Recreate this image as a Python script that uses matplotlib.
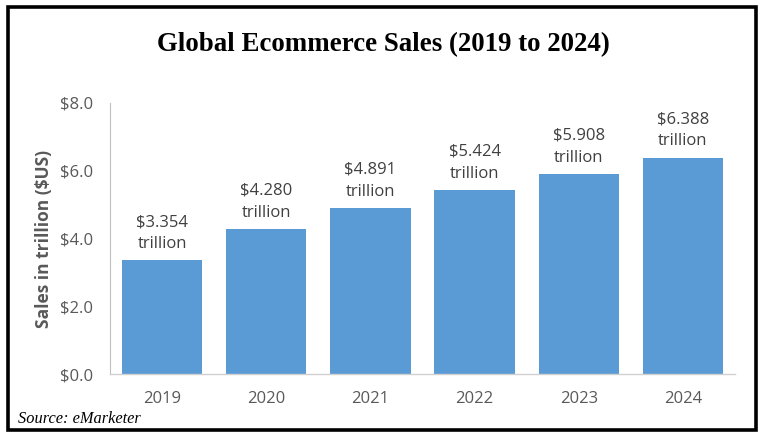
import matplotlib
matplotlib.use("Agg")
import matplotlib.pyplot as plt
from matplotlib.patches import Rectangle

years = ["2019", "2020", "2021", "2022", "2023", "2024"]
sales = [3.354, 4.280, 4.891, 5.424, 5.908, 6.388]
yticks = [0.0, 2.0, 4.0, 6.0, 8.0]
ytick_labels = ["$0.0", "$2.0", "$4.0", "$6.0", "$8.0"]

fig = plt.figure(figsize=(7.67, 4.41), dpi=100)
W, H = 767, 441
ax = fig.add_axes([110 / W, 1 - 374 / H, (735 - 110) / W, (374 - 103) / H])

x = list(range(len(years)))
ax.bar(x, sales, width=0.77, color="#5B9BD5", zorder=2)
ax.set_xlim(-0.5, len(years) - 0.5)
ax.set_ylim(0, 8.0)
ax.set_yticks(yticks)
ax.set_yticklabels(ytick_labels)
ax.set_xticks(x)
ax.set_xticklabels(years)

tick_color = "#595959"
for lab in ax.get_xticklabels() + ax.get_yticklabels():
    lab.set_family("Open Sans")
    lab.set_fontsize(12)
    lab.set_color(tick_color)
ax.tick_params(axis="x", length=0, pad=12)
ax.tick_params(axis="y", length=0, pad=12)

for s in ["top", "right"]:
    ax.spines[s].set_visible(False)
ax.spines["left"].set_color("#BFBFBF")
ax.spines["left"].set_linewidth(0.8)
ax.spines["bottom"].set_color("#D0D0D0")
ax.spines["bottom"].set_linewidth(1.0)

ax.set_ylabel("Sales in trillion ($US)", family="Open Sans", fontsize=12.5,
              fontweight="bold", color=tick_color, labelpad=5)

for xi, v in zip(x, sales):
    ax.annotate(f"${v:.3f}\ntrillion", (xi, v), xytext=(0, 6),
                textcoords="offset points", ha="center", va="bottom",
                family="Open Sans", fontsize=12, color="#404040",
                linespacing=1.5)

fig.text(383 / W, 1 - 45 / H, "Global Ecommerce Sales (2019 to 2024)",
         ha="center", va="center", family="Liberation Serif",
         fontweight="bold", fontsize=19.4, color="black")
fig.text(18 / W, 1 - 419 / H, "Source: eMarketer", ha="left", va="center",
         family="Liberation Serif", style="italic", fontsize=11.8, color="black")

fig.patches.append(Rectangle((8 / W, 1 - 430 / H), (756 - 8) / W, (430 - 7) / H,
                             transform=fig.transFigure, fill=False,
                             edgecolor="black", linewidth=2.6))

fig.savefig("out.png", dpi=100)
